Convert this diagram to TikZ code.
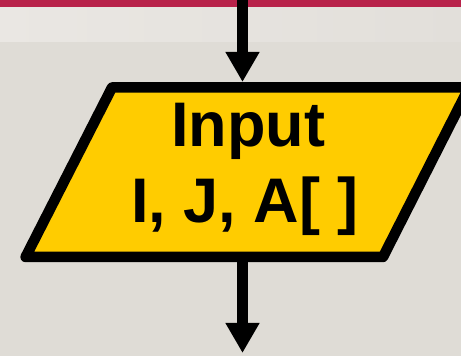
\documentclass[tikz,border=0pt]{standalone}
\usepackage{fontspec}
\setmainfont{Liberation Sans}
\usetikzlibrary{arrows.meta}
\definecolor{pagebg}{HTML}{DFDCD6}
\definecolor{bandL}{HTML}{EAE7E3}
\definecolor{bandR}{HTML}{E2DFDA}
\definecolor{ruleRed}{HTML}{B8224A}
\definecolor{ioYellow}{HTML}{FFCC00}
\tikzset{
  flowarrow/.style={line width=11pt, draw=black,
    -{Triangle[width=32pt,length=30pt]}},
  iobox/.style={fill=ioYellow, draw=black, line width=10.5pt, line join=round},
  iotext/.style={font=\fontsize{63}{76}\selectfont\bfseries, text=black,
    inner sep=0pt, anchor=base},
}
\begin{document}
\begin{tikzpicture}[x=1pt,y=1pt]
  \useasboundingbox (0,0) rectangle (461,356);
  % page background, light header band and red rule
  \fill[pagebg] (0,0) rectangle (461,356);
  \shade[left color=bandL, right color=bandR] (0,314) rectangle (461,349);
  \fill[ruleRed] (0,349) rectangle (461,356);

  % input parallelogram
  \coordinate (pTL) at (112,268.5);
  \coordinate (pTR) at (469,268.5);
  \coordinate (pBR) at (383,99);
  \coordinate (pBL) at (25.6,99);
  \draw[iobox] (pTL) -- (pTR) -- (pBR) -- (pBL) -- cycle;
  \coordinate (inTop) at (242.5,274);
  \coordinate (inBot) at (242.5,96);

  \node[iotext] (l1) at (248,209) {Input};
  \node[iotext] (l2) at (245,133) {I, J, A[ ]};

  % flow connectors
  \coordinate (src) at (242.5,357);
  \coordinate (dst) at (242.5,3);
  \draw[flowarrow] (src) -- (inTop);
  \draw[flowarrow] (inBot) -- (dst);
\end{tikzpicture}
\end{document}
